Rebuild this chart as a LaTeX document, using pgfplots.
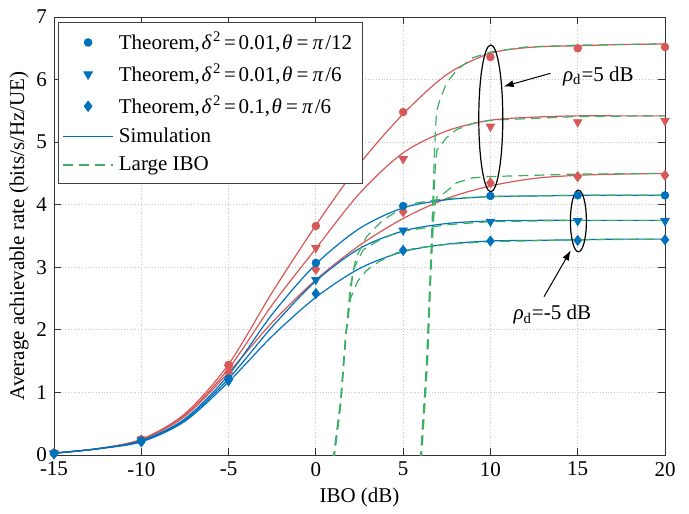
\documentclass[border=0pt]{standalone}
\usepackage{fontspec}
\setmainfont{Liberation Serif}
\usepackage{pgfplots}
\pgfplotsset{compat=1.18}
\usetikzlibrary{arrows.meta}

\definecolor{rd}{RGB}{214,88,88}
\definecolor{bl}{RGB}{0,114,189}
\definecolor{gr}{RGB}{60,175,100}

\newcommand{\fs}{\fontsize{10.5}{12}\selectfont}
\newcommand{\eq}{\hspace{1.3pt}=\hspace{1.3pt}}
\newcommand{\gk}[1]{\hspace{0.8pt}\textit{#1}\hspace{0.8pt}}
\newcommand{\thm}[1]{\makebox[117pt][l]{#1}}

\begin{document}
\begin{tikzpicture}
\begin{axis}[
  scale only axis, width=305.5pt, height=219pt,
  xmin=-15, xmax=20, ymin=0, ymax=7,
  xtick={-15,-10,...,20}, ytick={0,1,...,7},
  grid=major, grid style={densely dotted, gray!45, line width=0.4pt},
  axis line style={black!80, line width=0.5pt},
  tick style={black!80, line width=0.5pt},
  major tick length=3.5pt,
  tick label style={font=\fs},
  /pgf/number format/assume math mode=true,
  xlabel={IBO (dB)},
  ylabel={Average achievable rate (bits/s/Hz/UE)},
  label style={font=\fs},
  x label style={at={(axis description cs:0.5,-0.096)}, anchor=center},
  y label style={at={(axis description cs:-0.057,0.5)}, anchor=center},
  legend image code/.code={\draw[mark repeat=2,mark phase=2,#1] plot coordinates {(0pt,0pt)(12.5pt,0pt)(25pt,0pt)};},
  legend style={at={(axis description cs:0,1)}, anchor=north west,
    xshift=2pt, yshift=-2.5pt, font=\fs, draw=black!75, line width=0.5pt,
    inner sep=2pt, row sep=0pt, nodes={inner xsep=2.6pt, inner ysep=2.8pt}},
  legend cell align=left,
]
% legend entries
\addlegendimage{only marks, mark=*, mark size=1.9pt, bl}
\addlegendentry{\thm{Theorem,\gk{δ}\textsuperscript{2}\eq 0.01,\gk{θ}\eq\gk{π}/12}}
\addlegendimage{only marks, mark=triangle*, mark options={rotate=180}, mark size=2.4pt, bl}
\addlegendentry{\thm{Theorem,\gk{δ}\textsuperscript{2}\eq 0.01,\gk{θ}\eq\gk{π}/6}}
\addlegendimage{only marks, mark=diamond*, mark size=2.5pt, bl}
\addlegendentry{\thm{Theorem,\gk{δ}\textsuperscript{2}\eq 0.1,\gk{θ}\eq\gk{π}/6}}
\addlegendimage{bl, line width=0.6pt}
\addlegendentry{Simulation}
\addlegendimage{gr, line width=0.6pt, dash pattern=on 5pt off 3pt}
\addlegendentry{Large IBO}

% simulation, rho_d = 5 dB
\addplot[rd, line width=0.6pt, smooth, forget plot] coordinates {
  (-15,0.03)(-12.5,0.1)(-10,0.25)(-7.5,0.66)(-5,1.45)(-2.5,2.6)(0,3.67)(2.5,4.65)
  (5,5.45)(7.5,6.08)(10,6.42)(12.5,6.52)(15,6.54)(17.5,6.56)(20,6.57)};
\addplot[rd, line width=0.6pt, smooth, forget plot] coordinates {
  (-15,0.03)(-12.5,0.1)(-10,0.25)(-7.5,0.64)(-5,1.38)(-2.5,2.4)(0,3.3)(2.5,4.18)
  (5,4.83)(7.5,5.18)(10,5.35)(12.5,5.4)(15,5.42)(17.5,5.42)(20,5.42)};
\addplot[rd, line width=0.6pt, smooth, forget plot] coordinates {
  (-15,0.03)(-12.5,0.1)(-10,0.24)(-7.5,0.62)(-5,1.32)(-2.5,2.12)(0,2.8)(2.5,3.35)
  (5,3.78)(7.5,4.1)(10,4.3)(12.5,4.42)(15,4.47)(17.5,4.49)(20,4.5)};
% simulation, rho_d = -5 dB
\addplot[bl, line width=0.6pt, smooth, forget plot] coordinates {
  (-15,0.03)(-12.5,0.1)(-10,0.23)(-7.5,0.58)(-5,1.28)(-2.5,2.25)(0,3.05)(2.5,3.62)
  (5,3.95)(7.5,4.08)(10,4.13)(12.5,4.14)(15,4.15)(17.5,4.15)(20,4.15)};
\addplot[bl, line width=0.6pt, smooth, forget plot] coordinates {
  (-15,0.03)(-12.5,0.1)(-10,0.22)(-7.5,0.56)(-5,1.22)(-2.5,2.05)(0,2.78)(2.5,3.3)
  (5,3.58)(7.5,3.7)(10,3.74)(12.5,3.75)(15,3.75)(17.5,3.75)(20,3.75)};
\addplot[bl, line width=0.6pt, smooth, forget plot] coordinates {
  (-15,0.03)(-12.5,0.1)(-10,0.21)(-7.5,0.54)(-5,1.17)(-2.5,1.9)(0,2.52)(2.5,2.98)
  (5,3.25)(7.5,3.37)(10,3.42)(12.5,3.43)(15,3.44)(17.5,3.45)(20,3.45)};

% large IBO approximation
\addplot[gr, line width=0.6pt, dash pattern=on 5pt off 3pt, forget plot] coordinates {
  (5.98,-0.1)(6.34,1.48)(6.56,2.97)(6.7,4.03)(6.8,4.9)(6.91,5.49)(7.1,5.67)(7.48,5.94)
  (8.06,6.15)(9.0,6.35)(10,6.44)(12,6.52)(15,6.55)(20,6.57)};
\addplot[gr, line width=0.6pt, dash pattern=on 5pt off 3pt, forget plot] coordinates {
  (6.01,-0.1)(6.37,1.48)(6.58,2.97)(6.74,4.03)(6.84,4.6)(6.93,4.87)(7.48,5.07)(8.06,5.2)
  (9,5.3)(10,5.35)(15,5.41)(20,5.42)};
\addplot[gr, line width=0.6pt, dash pattern=on 5pt off 3pt, forget plot] coordinates {
  (6.04,-0.1)(6.4,1.48)(6.6,2.97)(6.75,3.8)(6.85,4.05)(6.95,4.13)(7.38,4.19)(8.06,4.35)
  (9,4.43)(10,4.45)(15,4.49)(20,4.5)};
\addplot[gr, line width=0.6pt, dash pattern=on 5pt off 3pt, forget plot] coordinates {
  (0.97,-0.1)(1.4,0.83)(1.7,1.89)(1.98,2.7)(2.3,3.15)(2.9,3.49)(3.86,3.76)(4.81,3.92)
  (5.77,4.03)(7.5,4.1)(10,4.13)(15,4.15)(20,4.15)};
\addplot[gr, line width=0.6pt, dash pattern=on 5pt off 3pt, forget plot] coordinates {
  (1.0,-0.1)(1.42,0.83)(1.7,1.89)(1.95,2.5)(2.14,2.96)(2.71,3.28)(3.67,3.44)(4.81,3.57)
  (7.5,3.68)(10,3.73)(15,3.75)(20,3.75)};
\addplot[gr, line width=0.6pt, dash pattern=on 5pt off 3pt, forget plot] coordinates {
  (1.03,-0.1)(1.44,0.83)(1.72,1.89)(1.98,2.5)(2.4,2.78)(2.9,2.95)(3.67,3.1)(4.62,3.23)
  (5.77,3.31)(7.67,3.37)(10,3.41)(15,3.44)(20,3.45)};

% theorem, rho_d = 5 dB
\addplot[rd, only marks, mark=*, mark size=1.9pt, forget plot] coordinates {
  (-15,0.03)(-10,0.25)(-5,1.44)(0,3.66)(5,5.48)(10,6.36)(15,6.5)(20,6.52)};
\addplot[rd, only marks, mark=triangle*, mark options={rotate=180}, mark size=2.4pt, forget plot] coordinates {
  (-15,0.03)(-10,0.25)(-5,1.4)(0,3.31)(5,4.73)(10,5.25)(15,5.32)(20,5.34)};
\addplot[rd, only marks, mark=diamond*, mark size=2.5pt, forget plot] coordinates {
  (-15,0.03)(-10,0.24)(-5,1.32)(0,2.97)(5,3.89)(10,4.35)(15,4.45)(20,4.47)};
% theorem, rho_d = -5 dB
\addplot[bl, only marks, mark=*, mark size=1.9pt, forget plot] coordinates {
  (-15,0.03)(-10,0.23)(-5,1.22)(0,3.07)(5,3.98)(10,4.14)(15,4.15)(20,4.15)};
\addplot[bl, only marks, mark=triangle*, mark options={rotate=180}, mark size=2.4pt, forget plot] coordinates {
  (-15,0.02)(-10,0.22)(-5,1.18)(0,2.8)(5,3.59)(10,3.73)(15,3.74)(20,3.74)};
\addplot[bl, only marks, mark=diamond*, mark size=2.5pt, forget plot] coordinates {
  (-15,0.02)(-10,0.21)(-5,1.2)(0,2.58)(5,3.27)(10,3.42)(15,3.43)(20,3.44)};

% annotations
\draw[black, line width=0.6pt] (axis cs:10.02,5.38) ellipse [x radius=6pt, y radius=36.7pt];
\draw[black, line width=0.6pt] (axis cs:15.04,3.74) ellipse [x radius=4pt, y radius=15.4pt];
\draw[black, line width=0.5pt, -{Latex[length=5pt,width=3.5pt]}] (axis cs:13.44,6.1) -- (axis cs:10.76,5.89);
\draw[black, line width=0.5pt, -{Latex[length=5pt,width=3.5pt]}] (axis cs:13.07,2.53) -- (axis cs:14.6,3.27);
\node[anchor=base west, font=\fs, inner sep=0pt] at (axis cs:14.14,5.97) {\textit{ρ}\textsubscript{d}=5 dB};
\node[anchor=base west, font=\fs, inner sep=0pt] at (axis cs:11.3,2.16) {\textit{ρ}\textsubscript{d}=-5 dB};
\end{axis}
\path (current axis.south west) ++(-27pt,-29pt) rectangle ++(344.5pt,256.5pt);
\end{tikzpicture}
\end{document}
